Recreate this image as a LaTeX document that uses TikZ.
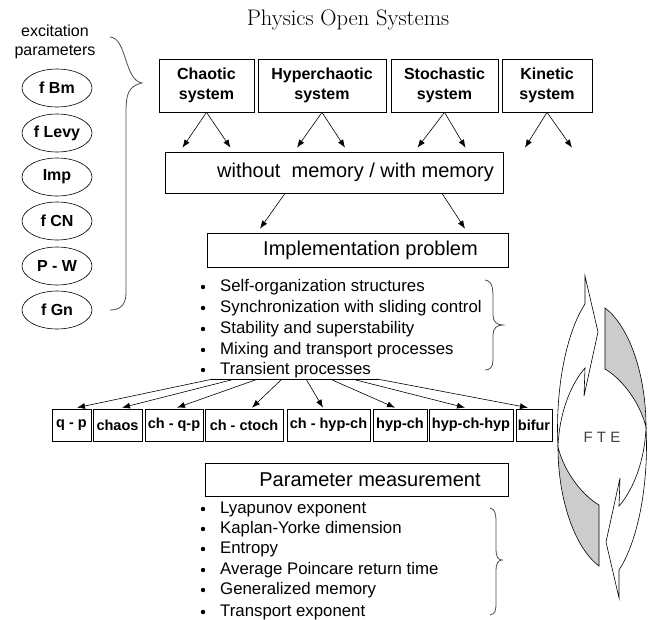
\documentclass[tikz,border=0pt]{standalone}
\usepackage{fontspec}
\setsansfont{Liberation Sans}
\usetikzlibrary{arrows.meta,calc,shapes.geometric}

\tikzset{
  topbox/.style={draw,line width=.7pt,minimum height=53pt,inner sep=2pt,align=center,
    font=\sffamily\bfseries\fontsize{16}{20}\selectfont},
  widebox/.style={draw,line width=.7pt,inner sep=0pt,font=\sffamily\fontsize{20}{24}\selectfont},
  smallbox/.style={draw,line width=.7pt,minimum height=32pt,inner sep=1pt,
    font=\sffamily\bfseries\fontsize{14.5}{17}\selectfont},
  oval/.style={draw,ellipse,line width=.6pt,minimum width=70pt,minimum height=38pt,inner sep=0pt,
    font=\sffamily\bfseries\fontsize{16}{19}\selectfont},
  listtext/.style={anchor=west,inner sep=0pt,font=\sffamily\fontsize{16.8}{20}\selectfont},
  arr/.style={-{Latex[length=8pt,width=6pt]},line width=.6pt},
  brace/.style={line width=.8pt,black!70},
}

\begin{document}
\begin{tikzpicture}[x=1pt,y=-1pt]
\useasboundingbox (0,0) rectangle (656,619);
% title
\node[font=\fontsize{22.5}{26}\selectfont] (title) at (348,20) {Physics Open Systems};

% excitation parameters
\node[align=center,font=\sffamily\fontsize{16}{19.5}\selectfont] (exc) at (55,42) {excitation\\parameters};
\foreach \n/\y/\t in {e1/88/f Bm, e2/133/f Levy, e3/177/Imp, e4/221/f CN, e5/266/P - W, e6/310/f Gn}
  \node[oval] (\n) at (57,\y) {\t};
\draw[brace] (110,37) .. controls (127,38) and (124,80) .. (142,83)
  .. controls (128,86) and (126,95) .. (126,112) -- (126,293)
  .. controls (126,305) and (120,310) .. (110,310);

% systems
\node[topbox,minimum width=95pt]  (chaotic) at (206.5,85.5) {Chaotic\\system};
\node[topbox,minimum width=128pt] (hyper)   at (322,85.5)   {Hyperchaotic\\system};
\node[topbox,minimum width=107pt] (stoch)   at (444.5,85.5) {Stochastic\\system};
\node[topbox,minimum width=90pt]  (kinetic) at (547,85.5)   {Kinetic\\system};

\node[widebox,minimum width=338pt,minimum height=41pt] (memory) at (334,172.5) {\hspace*{43pt}without\ \ memory / with memory};
\node[widebox,minimum width=301pt,minimum height=34pt] (impl) at (357.5,250) {\hspace*{26pt}Implementation problem};

\foreach \s/\a/\b in {chaotic/-24/24, hyper/-25/23, stoch/-27/21, kinetic/-22/25}{
  \draw[arr] (\s.south) -- ($(\s.south |- memory.north)+(\a,-4)$);
  \draw[arr] (\s.south) -- ($(\s.south |- memory.north)+(\b,-4)$);
}
\draw[arr] ($(memory.south)+(-49,0)$) -- ($(impl.north)+(-97.5,-4)$);
\draw[arr] ($(memory.south)+(108,0)$) -- ($(impl.north)+(107.5,-4)$);

% implementation problems
\foreach \i/\y/\t in {1/287/Self-organization structures, 2/308/Synchronization with sliding control,
    3/329/Stability and superstability, 4/350/Mixing and transport processes, 5/370/Transient processes}{
  \fill (203,\y) circle (2.2pt);
  \node[listtext] (s\i) at (220,\y) {\t};
}
\draw[brace] (485,280) .. controls (493,281) and (493,290) .. (493,300) -- (493,315)
  .. controls (493,322) and (497,325) .. (503,325) .. controls (497,325) and (493,328) .. (493,335)
  -- (493,360) .. controls (493,367) and (490,370) .. (485,370);

% regimes
\coordinate (fanL) at (211,379);
\coordinate (fanR) at (378,379);
\draw[line width=.6pt] (fanL) -- (fanR);
\foreach \n/\x/\w/\t/\dx/\d in {qp/71.5/39/q - p/5.5/2, chaos/117.5/49/chaos/4.5/24,
    chqp/174/58/ch - q-p/3/47, chct/244/78/ch - ctoch/8/71, chhyp/328.5/83/ch - hyp-ch/-5.5/95,
    hyp/400/54/hyp-ch/-5/119, hch/471/84/hyp-ch-hyp/-6/141, bif/534/36/bifur/-6/166}{
  \node[smallbox,minimum width=\w pt] (\n) at (\x,425) {\t};
  \draw[arr] ($(fanL)+(\d,0)$) -- ($(\n.north)+(\dx,-1)$);
}

% parameter measurement
\node[widebox,minimum width=303pt,minimum height=33pt] (param) at (356.5,479.5) {\hspace*{27pt}Parameter measurement};
\foreach \i/\y/\t in {1/509/Lyapunov exponent, 2/529/Kaplan-Yorke dimension, 3/549/Entropy,
    4/570/Average Poincare return time, 5/590/Generalized memory, 6/612/Transport exponent}{
  \fill (203,\y) circle (2.2pt);
  \node[listtext] (m\i) at (220,\y) {\t};
}
\draw[brace] (490,508) .. controls (495,509) and (496,514) .. (496,522) -- (496,550)
  .. controls (496,556) and (498,560) .. (502,560) .. controls (498,560) and (496,564) .. (496,570)
  -- (496,603) .. controls (496,611) and (495,614) .. (490,615);

% FTE cycle
\foreach \r in {0,180}{
  \begin{scope}[rotate around={\r:(602,437)},line width=.6pt]
    \filldraw[fill=white] (585,276) -- (585,304) .. controls (566,333) and (555,390) .. (558,447)
      .. controls (559,415) and (570,385) .. (585,368) -- (584,396) -- (598,332) -- cycle;
    \filldraw[fill=black!20] (558,447) .. controls (558,500) and (575,548) .. (599,566)
      -- (599,505) .. controls (585,497) and (565,475) .. (558,447) -- cycle;
  \end{scope}
}
\node[font=\sffamily\fontsize{15}{18}\selectfont,text=black!75] (fte) at (602,437) {F T E};
\end{tikzpicture}
\end{document}
